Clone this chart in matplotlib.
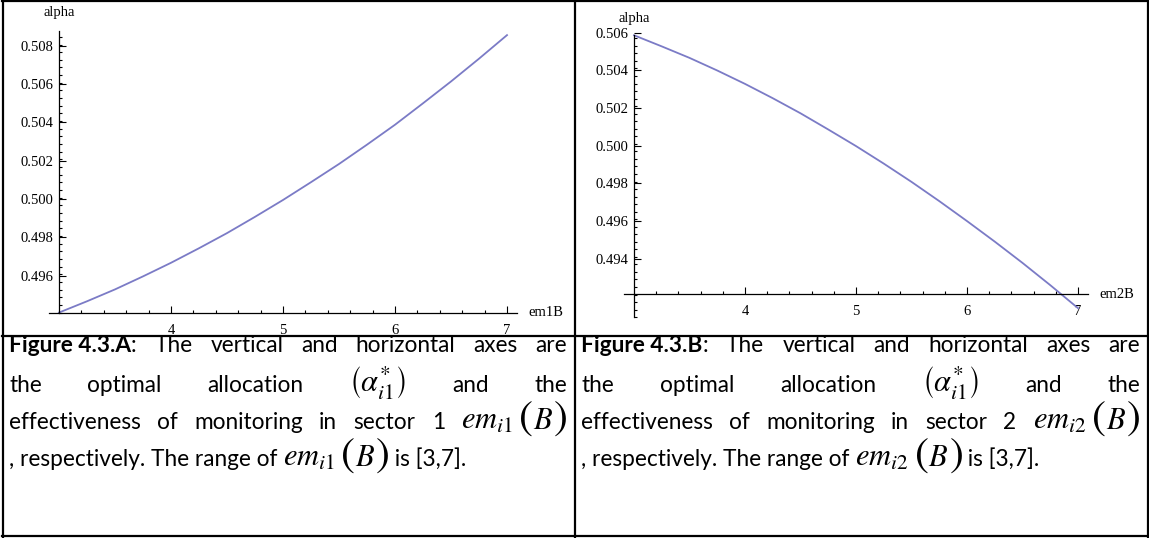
import numpy as np
import matplotlib
matplotlib.use('Agg')
import matplotlib.pyplot as plt
from matplotlib.lines import Line2D
from matplotlib.transforms import IdentityTransform

plt.rcParams['mathtext.fontset'] = 'stix'

# data (em from 3 to 7, step 0.25)
em_values = [3.0, 3.25, 3.5, 3.75, 4.0, 4.25, 4.5, 4.75, 5.0,
             5.25, 5.5, 5.75, 6.0, 6.25, 6.5, 6.75, 7.0]
alpha_sector1 = [0.49407, 0.49466, 0.49528, 0.49596, 0.49667, 0.49743, 0.49822, 0.49907, 0.49995,
                 0.50088, 0.50183, 0.50284, 0.50388, 0.50500, 0.50614, 0.50733, 0.50856]
alpha_sector2 = [0.50586, 0.50527, 0.50466, 0.50399, 0.50328, 0.50252, 0.50172, 0.50086, 0.49998,
                 0.49905, 0.49808, 0.49706, 0.49600, 0.49491, 0.49378, 0.49260, 0.49138]

x_ticks = [4, 5, 6, 7]
y_ticks_a = [0.496, 0.498, 0.500, 0.502, 0.504, 0.506, 0.508]
y_ticks_b = [0.494, 0.496, 0.498, 0.500, 0.502, 0.504, 0.506]

W, H = 1149, 538
fig = plt.figure(figsize=(W / 100, H / 100), dpi=100)
fig.patch.set_facecolor('white')

serif = 'Liberation Serif'
tick_size = 10.5
line_color = '#7b7bc6'


def mathematica_axes(rect, xlim, ylim, origin, ybounds, yticks, xlabel, label_gap):
    ax = fig.add_axes([rect[0] / W, 1 - rect[3] / H, (rect[2] - rect[0]) / W, (rect[3] - rect[1]) / H])
    ax.set_xlim(*xlim)
    ax.set_ylim(*ylim)
    ax.patch.set_alpha(0)
    for s in ['top', 'right']:
        ax.spines[s].set_visible(False)
    ax.spines['left'].set_position(('data', origin[0]))
    ax.spines['bottom'].set_position(('data', origin[1]))
    ax.spines['left'].set_bounds(*ybounds)
    ax.spines['bottom'].set_bounds(2.91, 7.09)
    for s in ['left', 'bottom']:
        ax.spines[s].set_linewidth(0.9)
    ax.set_xticks(x_ticks)
    ax.set_xticklabels([str(v) for v in x_ticks], fontfamily=serif, fontsize=tick_size)
    ax.set_xticks(np.arange(3.2, 7.01, 0.2), minor=True)
    ax.set_yticks(yticks)
    ax.set_yticklabels(['%.3f' % v for v in yticks], fontfamily=serif, fontsize=tick_size)
    ax.set_yticks(np.arange(ybounds[0], ybounds[1], 0.0004), minor=True)
    ax.tick_params(which='both', direction='in', width=0.8, pad=4)
    ax.tick_params(which='major', length=5)
    ax.tick_params(which='minor', length=2.5)
    ax.tick_params(axis='x', pad=8)
    ax.annotate('alpha', (origin[0], ybounds[1]), xytext=(0, label_gap), textcoords='offset points',
                fontfamily=serif, fontsize=tick_size, ha='center', va='bottom')
    ax.text(7.19, origin[1], xlabel, fontfamily=serif, fontsize=tick_size,
            ha='left', va='center', transform=ax.transData)
    return ax


axA = mathematica_axes((40, 20, 540, 330), (2.8304, 7.2946), (0.49316, 0.50935),
                       (3, 0.49407), (0.49407, 0.5088), y_ticks_a, 'em1B', 8)
axA.plot(em_values, alpha_sector1, color=line_color, lw=1.3, clip_on=False)

axB = mathematica_axes((615, 20, 1115, 330), (2.8288, 7.3333), (0.49022, 0.50667),
                       (3, 0.49211), (0.4909, 0.5059), y_ticks_b, 'em2B', 7)
axB.plot(em_values, alpha_sector2, color=line_color, lw=1.3, clip_on=False)


# table borders
def hline(x0, x1, y, lw=1.6):
    fig.add_artist(Line2D([x0 / W, x1 / W], [1 - y / H, 1 - y / H], color='black', lw=lw,
                          transform=fig.transFigure))


def vline(x, y0, y1, lw=1.6):
    fig.add_artist(Line2D([x / W, x / W], [1 - y0 / H, 1 - y1 / H], color='black', lw=lw,
                          transform=fig.transFigure))


hline(2, 1148, 1)
hline(2, 1148, 336)
hline(2, 1148, 536)
vline(2.5, 0, 538)
vline(574.5, 0, 538)
vline(1147.5, 0, 538)

# captions
renderer = fig.canvas.get_renderer()
body = dict(fontfamily='Lato', fontsize=16.3, color='black')
bold = dict(fontfamily='Lato', fontsize=16.3, color='black', fontweight='bold')
math = dict(fontsize=22, color='black')
paren = dict(fontsize=30, color='black')


def put_line(x0, x1, y, words, justify=True):
    groups = []
    for word in words:
        arts = []
        for s, props in word:
            t = fig.text(0, H - y, s, transform=IdentityTransform(), va='baseline', **props)
            arts.append(t)
        groups.append(arts)
    widths = [[a.get_window_extent(renderer).width for a in arts] for arts in groups]
    total = sum(sum(w) for w in widths)
    n = len(groups)
    gap = (x1 - x0 - total) / (n - 1) if (justify and n > 1) else 5
    x = x0
    for arts, ws in zip(groups, widths):
        for a, w in zip(arts, ws):
            a.set_x(x)
            x += w
        x += gap


def em_word(sub):
    return [(r'$em_{%s}$' % sub, math), (r'$\,($', paren), (r'$B$', math), (r'$)$', paren)]


alpha_m = r'$\left(\alpha_{i1}^{*}\right)$'
for left, right, tag, sector, sub in [(9, 567, 'Figure 4.3.A', '1', 'i1'),
                                      (581, 1140, 'Figure 4.3.B', '2', 'i2')]:
    line1 = [[(tag, bold), (':', body)]] + [[(w, body)] for w in 'The vertical and horizontal axes are'.split()]
    put_line(left, right, 352, line1)
    line2 = [[('the', body)], [('optimal', body)], [('allocation', body)], [(alpha_m, math)],
             [('and', body)], [('the', body)]]
    put_line(left, right, 392, line2)
    line3 = [[(w, body)] for w in ('effectiveness of monitoring in sector ' + sector).split()] + [em_word(sub)]
    put_line(left, right, 429, line3)
    line4 = [[(', respectively. The range of ', body)] + em_word(sub) + [(' is [3,7].', body)]]
    put_line(left, right, 466, line4, justify=False)

fig.savefig('out.png', dpi=100)
